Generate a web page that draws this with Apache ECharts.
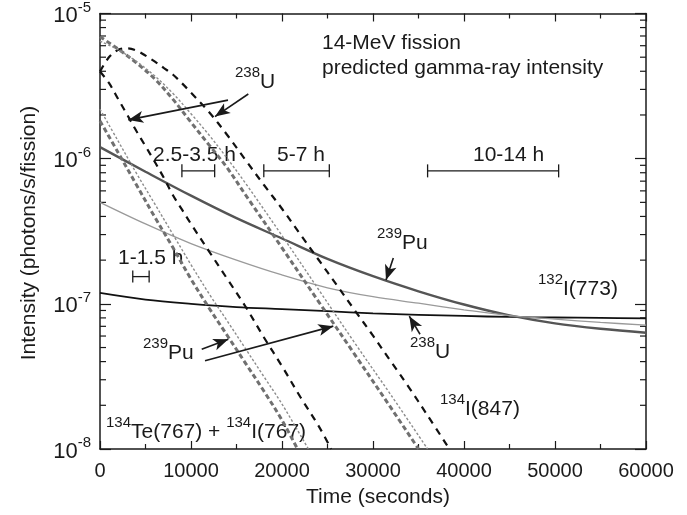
<!DOCTYPE html>
<html>
<head>
<meta charset="utf-8">
<script src="https://cdn.jsdelivr.net/npm/echarts@6/dist/echarts.min.js"></script>
<style>
  html, body { margin: 0; padding: 0; background: #ffffff; }
  #chart { width: 687px; height: 515px; }
</style>
</head>
<body>
<div id="chart"></div>
<script>
// ---- Predicted gamma-ray intensity after 14-MeV fission (photons/s/fission) ----

// 132I (773 keV) solid curves, sampled every 5000 s
const tSolid = [0, 5000, 10000, 15000, 20000, 25000, 30000, 35000, 40000, 45000, 50000, 55000, 60000];
const i132U238 = [1.19e-7, 1.07e-7, 1.0e-7, 9.5e-8, 9.2e-8, 8.9e-8, 8.6e-8, 8.4e-8, 8.25e-8, 8.12e-8, 8.05e-8, 8.0e-8, 7.95e-8];
const i132Pu239 = [1.2e-6, 8.13e-7, 5.56e-7, 3.89e-7, 2.82e-7, 2.04e-7, 1.55e-7, 1.22e-7, 9.89e-8, 8.32e-8, 7.33e-8, 6.73e-8, 6.32e-8];
const i132Thin = [5.0e-7, 3.55e-7, 2.6e-7, 2.0e-7, 1.58e-7, 1.29e-7, 1.12e-7, 1.01e-7, 9.1e-8, 8.3e-8, 7.85e-8, 7.45e-8, 7.13e-8];

// 134I (847 keV)
const t847U = [0, 1000, 2000, 3000, 4000, 5000, 6000, 7000, 8000, 9000, 10000, 12000, 14000, 16000, 18000, 20000, 22000, 24000, 26000, 28000, 30000, 32000, 34000, 36000, 38400];
const i847U238 = [3.98e-6, 5.01e-6, 5.62e-6, 5.75e-6, 5.56e-6, 5.13e-6, 4.68e-6, 4.22e-6, 3.80e-6, 3.31e-6, 2.85e-6, 2.09e-6, 1.45e-6, 9.77e-7, 6.61e-7, 4.52e-7, 3.02e-7, 2.02e-7, 1.35e-7, 9.02e-8, 6.03e-8, 3.98e-8, 2.63e-8, 1.70e-8, 1.0e-8];
const t847Pu = [0, 2000, 4000, 6000, 8000, 10000, 12000, 14000, 16000, 20000, 24000, 28000, 32000, 35000];
const i847Pu239 = [6.92e-6, 5.69e-6, 4.57e-6, 3.55e-6, 2.57e-6, 1.78e-6, 1.24e-6, 8.61e-7, 5.62e-7, 2.43e-7, 1.04e-7, 4.47e-8, 1.91e-8, 1.0e-8];
const t847Dot = [0, 2000, 4000, 6000, 8000, 10000, 12000, 14000, 16000, 20000, 24000, 28000, 32000, 36000];
const i847Dot = [6.46e-6, 5.62e-6, 4.68e-6, 3.72e-6, 2.82e-6, 2.04e-6, 1.45e-6, 1.0e-6, 6.76e-7, 2.95e-7, 1.26e-7, 5.37e-8, 2.34e-8, 1.0e-8];

// 134Te (767 keV) + 134I (767 keV)
const t767U = [0, 1000, 2000, 3000, 4000, 5000, 6000, 7000, 8000, 9000, 10000, 12000, 14000, 16000, 18000, 20000, 22000, 24000, 25400];
const i767U238 = [3.98e-6, 3.31e-6, 2.57e-6, 2.0e-6, 1.55e-6, 1.22e-6, 9.55e-7, 7.41e-7, 5.62e-7, 4.47e-7, 3.55e-7, 2.29e-7, 1.48e-7, 9.55e-8, 5.89e-8, 3.72e-8, 2.29e-8, 1.45e-8, 1.0e-8];
const t767Pu = [0, 2000, 4000, 6000, 8000, 10000, 12000, 14000, 16000, 18000, 20000, 21700];
const i767Pu239 = [1.82e-6, 1.10e-6, 6.61e-7, 3.98e-7, 2.45e-7, 1.48e-7, 9.33e-8, 6.03e-8, 3.89e-8, 2.51e-8, 1.58e-8, 1.0e-8];
const t767Dot = [0, 2000, 4000, 6000, 8000, 10000, 12000, 14000, 16000, 18000, 20000, 22900];
const i767Dot = [2.19e-6, 1.32e-6, 7.94e-7, 4.90e-7, 3.02e-7, 1.86e-7, 1.17e-7, 7.59e-8, 4.90e-8, 3.16e-8, 2.04e-8, 1.0e-8];

// Counting windows (hours) and the intensity level at which each bar is drawn
const windowHours = [[1, 1.5], [2.5, 3.5], [5, 7], [10, 14]];
const windowLevel = [1.54e-7, 8.24e-7, 8.24e-7, 8.24e-7];

// Annotation arrows [tail, head] as [time, intensity]
const arrows = [
  [[14066, 2.53e-6], [3110, 1.85e-6]],
  [[16297, 2.79e-6], [12637, 1.95e-6]],
  [[32231, 2.07e-7], [31429, 1.46e-7]],
  [[35165, 6.17e-8], [33989, 8.22e-8]],
  [[11176, 4.86e-8], [14099, 5.70e-8]],
  [[11538, 4.06e-8], [25637, 7.02e-8]]
];

const yTickExp = [-8, -7, -6, -5];
const minorLevels = [];
yTickExp.slice(0, 3).forEach(function (e) {
  for (let m = 2; m <= 9; m++) minorLevels.push(m * Math.pow(10, e));
});

const FONT = '"Liberation Sans", Arial, Helvetica, sans-serif';
const INK = '#1a1a1a';

function pairs(t, v) { return t.map(function (x, i) { return [x, v[i]]; }); }

function curve(name, t, v, color, width, type) {
  return {
    name: name, type: 'line', data: pairs(t, v), smooth: 0.35, showSymbol: false,
    symbol: 'none', silent: true, clip: true,
    lineStyle: { color: color, width: width, type: type }
  };
}

const chart = echarts.init(document.getElementById('chart'), null, { renderer: 'canvas' });

const xCommon = {
  type: 'value', min: 0, max: 60000, interval: 10000,
  axisLine: { show: true, onZero: false, lineStyle: { color: INK, width: 1.5 } },
  axisTick: { show: true, inside: true, length: 8, lineStyle: { color: INK, width: 1.2 } },
  minorTick: { show: true, splitNumber: 2, length: 5, lineStyle: { color: INK, width: 1.2 } },
  splitLine: { show: false }
};
const yCommon = {
  type: 'log', logBase: 10, min: 1e-8, max: 1e-5,
  axisLine: { show: true, onZero: false, lineStyle: { color: INK, width: 1.5 } },
  axisTick: { show: true, inside: true, length: 11, lineStyle: { color: INK, width: 1.2 } },
  splitLine: { show: false }
};

const series = [
  curve('132I U-238', tSolid, i132U238, '#111111', 1.8, 'solid'),
  curve('132I Pu-239', tSolid, i132Pu239, '#555555', 2.4, 'solid'),
  curve('132I thin', tSolid, i132Thin, '#9a9a9a', 1.3, 'solid'),
  curve('134I U-238', t847U, i847U238, '#111111', 2.2, [7, 6]),
  curve('134I Pu-239', t847Pu, i847Pu239, '#707070', 3, [5, 3]),
  curve('134I dotted', t847Dot, i847Dot, '#8c8c8c', 1.4, [2.5, 2]),
  curve('767 U-238', t767U, i767U238, '#111111', 2.2, [7, 6]),
  curve('767 Pu-239', t767Pu, i767Pu239, '#707070', 3, [5, 3]),
  curve('767 dotted', t767Dot, i767Dot, '#8c8c8c', 1.4, [2.5, 2])
];

// arrows as mark lines on the first curve
series[0].markLine = {
  silent: true, animation: false,
  symbol: ['none', 'arrow'], symbolSize: [9, 15],
  label: { show: false },
  lineStyle: { color: INK, width: 1.6, type: 'solid' },
  data: arrows.map(function (a) { return [{ coord: a[0] }, { coord: a[1] }]; })
};

// counting-window bars
series.push({
  type: 'custom', silent: true, clip: false,
  data: windowHours.map(function (w, i) { return [w[0] * 3600, w[1] * 3600, windowLevel[i]]; }),
  renderItem: function (params, api) {
    const p1 = api.coord([api.value(0), api.value(2)]);
    const p2 = api.coord([api.value(1), api.value(2)]);
    const h = params.dataIndex === 0 ? 6 : 6.5;
    const st = { stroke: INK, lineWidth: 1.3 };
    return {
      type: 'group', children: [
        { type: 'line', shape: { x1: p1[0], y1: p1[1], x2: p2[0], y2: p2[1] }, style: st },
        { type: 'line', shape: { x1: p1[0], y1: p1[1] - h, x2: p1[0], y2: p1[1] + h }, style: st },
        { type: 'line', shape: { x1: p2[0], y1: p2[1] - h, x2: p2[0], y2: p2[1] + h }, style: st }
      ]
    };
  }
});

// minor log ticks on the left and right frame
series.push({
  type: 'custom', silent: true, clip: false,
  data: minorLevels.map(function (v) { return [0, v]; }),
  renderItem: function (params, api) {
    const pl = api.coord([0, api.value(1)]);
    const pr = api.coord([60000, api.value(1)]);
    const st = { stroke: INK, lineWidth: 1.2 };
    return {
      type: 'group', children: [
        { type: 'line', shape: { x1: pl[0], y1: pl[1], x2: pl[0] + 6, y2: pl[1] }, style: st },
        { type: 'line', shape: { x1: pr[0], y1: pr[1], x2: pr[0] - 6, y2: pr[1] }, style: st }
      ]
    };
  }
});

const supRich = {
  b: { fontSize: 21, fontFamily: FONT, color: INK, lineHeight: 27, verticalAlign: 'bottom' },
  s: { fontSize: 15, fontFamily: FONT, color: INK, lineHeight: 15, verticalAlign: 'top' }
};

function txt(x, y, text, rich, extra) {
  const el = {
    type: 'text', x: x, y: y, silent: true,
    style: rich ? { text: text, rich: supRich, verticalAlign: 'middle', fill: INK }
                : { text: text, font: '21px ' + FONT, fill: INK, verticalAlign: 'middle' }
  };
  if (extra) Object.assign(el.style, extra);
  return el;
}

const yTitle = txt(29, 233, 'Intensity (photons/s/fission)', false, { align: 'center' });
yTitle.rotation = Math.PI / 2;

const graphic = [
  txt(322, 43, '14-MeV fission'),
  txt(322, 68, 'predicted gamma-ray intensity'),
  txt(153, 155, '2.5-3.5 h'),
  txt(277, 155, '5-7 h'),
  txt(473, 155, '10-14 h'),
  txt(118, 258, '1-1.5 h'),
  txt(235, 79, '{s|238}{b|U}', true),
  txt(377, 240, '{s|239}{b|Pu}', true),
  txt(538, 286, '{s|132}{b|I(773)}', true),
  txt(410, 349, '{s|238}{b|U}', true),
  txt(440, 406, '{s|134}{b|I(847)}', true),
  txt(143, 350, '{s|239}{b|Pu}', true),
  txt(106, 429, '{s|134}{b|Te(767) + }{s|134}{b|I(767)}', true),
  txt(378, 497, 'Time (seconds)', false, { align: 'center' }),
  yTitle
];

chart.setOption({
  animation: false,
  backgroundColor: '#ffffff',
  grid: { left: 100, right: 41, top: 10, bottom: 66, containLabel: false },
  xAxis: [
    Object.assign({}, xCommon, {
      position: 'bottom',
      axisLabel: {
        show: true, margin: 12, fontSize: 20, fontFamily: FONT, color: INK,
        formatter: function (v) { return String(v); }
      }
    }),
    Object.assign({}, xCommon, { position: 'top', axisLabel: { show: false } })
  ],
  yAxis: [
    Object.assign({}, yCommon, {
      position: 'left',
      axisLabel: {
        show: true, margin: 9,
        formatter: function (v) { return '{b|10}{s|' + Math.round(Math.log10(v)) + '}'; },
        rich: {
          b: { fontSize: 22, fontFamily: FONT, color: INK, lineHeight: 27, verticalAlign: 'bottom' },
          s: { fontSize: 15, fontFamily: FONT, color: INK, lineHeight: 15, verticalAlign: 'top' }
        }
      }
    }),
    Object.assign({}, yCommon, { position: 'right', axisLabel: { show: false } })
  ],
  series: series,
  graphic: graphic
});
</script>
</body>
</html>
